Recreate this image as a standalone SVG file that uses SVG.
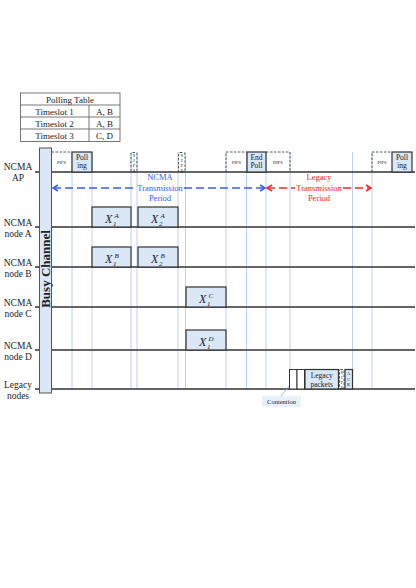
<svg xmlns="http://www.w3.org/2000/svg" width="416" height="588" viewBox="0 0 416 588">
<defs>
<style>
.t{font-family:"Liberation Serif","Times New Roman",serif;fill:#222}
.lab{font-size:9.5px;text-anchor:middle}
.tab{font-size:9px;text-anchor:middle}
.box{fill:#d9e7f6;stroke:#333;stroke-width:1.2}
.wbox{fill:#fff;stroke:#333;stroke-width:1}
.dash{fill:none;stroke:#333;stroke-width:0.8;stroke-dasharray:2.5,1.5}
.tl{stroke:#333;stroke-width:1.3}
.grid{stroke:#bcd0f4;stroke-width:1}
.tiny{font-size:4.5px;text-anchor:middle}
.sm{font-size:7.5px;text-anchor:middle}
.x{font-size:12px;font-style:italic}
.sc{font-size:7px;font-style:italic}
.blue{fill:#3a5cf0;font-size:8.5px;text-anchor:middle}
.red{fill:#f02a2a;font-size:8.5px;text-anchor:middle}
</style>
<marker id="hb" markerWidth="8" markerHeight="8" refX="6" refY="4" orient="auto-start-reverse" markerUnits="userSpaceOnUse">
<path d="M1,1 L6,4 L1,7" fill="none" stroke="#3a5cf0" stroke-width="1.5"/>
</marker>
<marker id="hr" markerWidth="8" markerHeight="8" refX="6" refY="4" orient="auto-start-reverse" markerUnits="userSpaceOnUse">
<path d="M1,1 L6,4 L1,7" fill="none" stroke="#f02a2a" stroke-width="1.5"/>
</marker>
</defs>
<rect width="416" height="588" fill="#fff"/>

<g id="polling-table" class="t">
<rect x="20.5" y="93" width="99.5" height="48.5" fill="#fff" stroke="#555" stroke-width="0.8"/>
<path d="M20.5,105H120M20.5,117H120M20.5,129H120M89,105V141.5" stroke="#555" stroke-width="0.8"/>
<text class="t tab" x="70" y="102.5">Polling Table</text>
<text class="t tab" x="54.5" y="114.5">Timeslot 1</text>
<text class="t tab" x="104.5" y="114.5">A, B</text>
<text class="t tab" x="54.5" y="126.5">Timeslot 2</text>
<text class="t tab" x="104.5" y="126.5">A, B</text>
<text class="t tab" x="54.5" y="138.5">Timeslot 3</text>
<text class="t tab" x="104.5" y="138.5">C, D</text>
</g>

<g id="grid">
<path class="grid" d="M72,152V389M92,152V389M131,152V389M137,152V389M178,152V389M185.5,152V389M226,152V389M246.5,152V389M266,152V389M290,152V389M352.5,152V389M372,152V389"/>
</g>

<g id="timelines">
<path class="tl" d="M35,172H415M35,227H415M35,267H415M35,307H415M35,350H415M35,389H415"/>
</g>

<g id="labels">
<text class="t lab" x="18" y="170">NCMA</text><text class="t lab" x="18" y="181">AP</text>
<text class="t lab" x="18" y="226">NCMA</text><text class="t lab" x="18" y="237">node A</text>
<text class="t lab" x="18" y="266">NCMA</text><text class="t lab" x="18" y="277">node B</text>
<text class="t lab" x="18" y="306">NCMA</text><text class="t lab" x="18" y="317">node C</text>
<text class="t lab" x="18" y="349">NCMA</text><text class="t lab" x="18" y="360">node D</text>
<text class="t lab" x="18" y="388">Legacy</text><text class="t lab" x="18" y="399">nodes</text>
</g>

<g id="busy-channel">
<rect x="39.5" y="148" width="12" height="245" fill="#d9e7f6" stroke="#555" stroke-width="1"/>
<text class="t" x="0" y="0" transform="translate(49.8,269) rotate(-90)" font-size="13" font-weight="bold" text-anchor="middle">Busy Channel</text>
</g>

<g id="ap-slots">
<path class="dash" d="M51.5,152H72"/>
<text class="t tiny" x="61.5" y="164">PIFS</text>
<rect class="box" x="72" y="152" width="20" height="20"/>
<text class="t sm" x="82" y="160">Poll</text><text class="t sm" x="82" y="168">ing</text>
<rect class="dash" x="131" y="152.5" width="6" height="19.5" rx="1.5"/>
<text class="t tiny" x="134" y="157">S</text><text class="t tiny" x="134" y="162">I</text><text class="t tiny" x="134" y="167">F</text><text class="t tiny" x="134" y="172">S</text>
<rect class="dash" x="178.5" y="152.5" width="6.5" height="19.5" rx="1.5"/>
<text class="t tiny" x="181.7" y="157">S</text><text class="t tiny" x="181.7" y="162">I</text><text class="t tiny" x="181.7" y="167">F</text><text class="t tiny" x="181.7" y="172">S</text>
<path class="dash" d="M226,172V152H247"/>
<text class="t tiny" x="236.5" y="164">PIFS</text>
<rect class="box" x="247" y="152" width="19" height="20"/>
<text class="t sm" x="256.5" y="160">End</text><text class="t sm" x="256.5" y="168">Poll</text>
<path class="dash" d="M266,152H290V172"/>
<text class="t tiny" x="278" y="164">DIFS</text>
<path class="dash" d="M372,172V152H392"/>
<text class="t tiny" x="382" y="164">PIFS</text>
<rect class="box" x="392" y="152" width="20" height="20"/>
<text class="t sm" x="402" y="160">Poll</text><text class="t sm" x="402" y="168">ing</text>
</g>

<g id="connectors">
<path d="M53,188H136" fill="none" stroke="#3a5cf0" stroke-width="1.5" stroke-dasharray="8,4" marker-start="url(#hb)"/>
<path d="M184,188H265" fill="none" stroke="#3a5cf0" stroke-width="1.5" stroke-dasharray="8,4" marker-end="url(#hb)"/>
<path d="M267,188H295" fill="none" stroke="#f02a2a" stroke-width="1.5" stroke-dasharray="8,4" marker-start="url(#hr)"/>
<path d="M343,188H371" fill="none" stroke="#f02a2a" stroke-width="1.5" stroke-dasharray="8,4" marker-end="url(#hr)"/>
<path d="M281,396L294,380" stroke="#8aa8e0" stroke-width="0.8" fill="none"/>
</g>

<g id="ncma-period">
<text class="t blue" x="160" y="179.5">NCMA</text>
<text class="t blue" x="160" y="191">Transmission</text>
<text class="t blue" x="160" y="201">Period</text>
</g>
<g id="legacy-period">
<text class="t red" x="319" y="179.5">Legacy</text>
<text class="t red" x="319" y="191">Transmission</text>
<text class="t red" x="319" y="201">Period</text>
</g>

<g id="x1a"><rect class="box" x="92" y="207" width="39" height="20"/>
<text class="t x" x="105" y="222.5">X</text><text class="t sc" x="113" y="226">1</text><text class="t sc" x="114.5" y="218">A</text></g>
<g id="x2a"><rect class="box" x="138" y="207" width="40" height="20"/>
<text class="t x" x="151" y="222.5">X</text><text class="t sc" x="159" y="226">2</text><text class="t sc" x="160.5" y="218">A</text></g>
<g id="x1b"><rect class="box" x="92" y="247" width="39" height="20"/>
<text class="t x" x="105" y="262.5">X</text><text class="t sc" x="113" y="266">1</text><text class="t sc" x="114.5" y="258">B</text></g>
<g id="x2b"><rect class="box" x="138" y="247" width="40" height="20"/>
<text class="t x" x="151" y="262.5">X</text><text class="t sc" x="159" y="266">2</text><text class="t sc" x="160.5" y="258">B</text></g>
<g id="x1c"><rect class="box" x="186" y="287" width="40" height="20"/>
<text class="t x" x="199" y="302.5">X</text><text class="t sc" x="207" y="306">1</text><text class="t sc" x="208.5" y="298">C</text></g>
<g id="x1d"><rect class="box" x="186" y="330" width="40" height="20"/>
<text class="t x" x="199" y="345.5">X</text><text class="t sc" x="207" y="349">1</text><text class="t sc" x="208.5" y="341">D</text></g>

<g id="legacy-slots">
<rect class="wbox" x="289.5" y="369.5" width="7.5" height="19.5"/>
<rect class="wbox" x="297" y="369.5" width="7.5" height="19.5"/>
<rect class="box" x="305" y="369.5" width="33.5" height="19.5"/>
<text class="t sm" x="321.7" y="378">Legacy</text><text class="t sm" x="321.7" y="386.5">packets</text>
<rect class="dash" x="339.5" y="369.5" width="4.5" height="19.5" rx="1"/>
<text class="t tiny" x="341.7" y="374">S</text><text class="t tiny" x="341.7" y="379">I</text><text class="t tiny" x="341.7" y="384">F</text><text class="t tiny" x="341.7" y="389">S</text>
<rect class="box" x="345" y="369.5" width="7.5" height="19.5"/>
<text class="t tiny" x="348.7" y="375">A</text><text class="t tiny" x="348.7" y="380.5">C</text><text class="t tiny" x="348.7" y="386">K</text>
</g>

<g id="contention">
<rect x="262" y="396" width="39" height="11" fill="#e8f1fb"/>
<text class="t" x="281.5" y="404" font-size="6.5" text-anchor="middle">Contention</text>
</g>
</svg>
